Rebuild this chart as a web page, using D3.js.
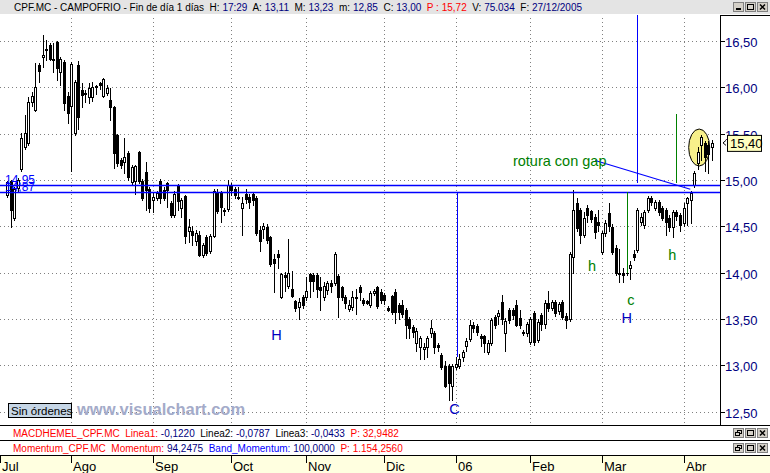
<!DOCTYPE html>
<html><head><meta charset="utf-8">
<script src="https://cdn.jsdelivr.net/npm/d3@7"></script>
<style>
body{margin:0;background:#fff;}
svg{display:block;font-family:"Liberation Sans",Arial,sans-serif;}
text{white-space:pre;}
</style>
</head><body>
<svg id="c" width="770" height="473"></svg>
<script>
// ---------- data ----------
const opens = [14.84,14.99,14.59,14.91,15.12,15.36,15.40,15.84,15.76,16.24,16.33,16.40,16.46,16.31,16.49,16.16,16.27,15.91,15.80,15.51,
16.24,15.97,15.94,15.90,15.90,16.00,16.05,15.91,15.94,15.86,15.79,15.49,15.21,15.19,15.29,14.98,14.99,15.30,14.99,15.09,
14.90,14.78,14.81,14.99,14.89,14.97,14.75,14.62,14.95,14.70,14.83,14.45,14.45,14.34,14.41,14.19,14.38,14.23,14.40,14.86,
14.86,14.66,14.69,14.95,14.90,14.82,14.70,14.85,14.82,14.85,14.81,14.46,14.47,14.49,14.38,14.15,14.20,13.74,13.97,13.85,
13.82,13.69,13.63,13.74,13.74,13.98,13.97,13.97,13.84,13.74,13.81,13.89,13.89,13.96,13.84,13.74,13.61,13.63,13.74,13.84,
13.70,13.69,13.65,13.78,13.84,13.79,13.76,13.62,13.75,13.79,13.65,13.65,13.60,13.50,13.41,13.24,13.20,13.17,13.20,13.35,
13.35,13.22,13.11,12.99,12.99,12.78,12.98,12.99,13.09,13.21,13.28,13.43,13.42,13.31,13.31,13.14,13.24,13.52,13.53,13.68,
13.35,13.60,13.60,13.65,13.51,13.35,13.35,13.25,13.56,13.27,13.54,13.44,13.67,13.62,13.68,13.58,13.68,13.53,13.50,14.17,
14.75,14.68,14.41,14.70,14.66,14.60,14.55,14.22,14.43,14.64,14.49,14.27,14.00,14.00,14.00,14.05,14.20,14.24,14.55,14.51,
14.68,14.81,14.70,14.76,14.70,14.68,14.59,14.49,14.65,14.62,14.53,14.75,14.78,14.94,15.18,15.38,15.40,15.38,15.36];
const highs = [14.99,15.00,14.92,15.02,15.51,15.70,15.90,15.95,16.26,16.26,16.56,16.51,16.48,16.48,16.50,16.33,16.30,15.95,16.27,16.08,
16.28,16.05,15.97,16.05,16.06,16.02,16.06,16.10,16.02,15.99,15.80,15.50,15.24,15.45,15.31,15.16,15.16,15.31,15.01,15.19,
14.92,14.86,14.88,15.01,14.92,14.98,14.77,14.88,14.96,14.80,14.84,14.58,14.50,14.46,14.45,14.32,14.41,14.42,14.90,14.90,
14.88,14.70,15.00,14.97,14.92,14.92,14.82,14.90,14.85,14.87,14.83,14.50,14.53,14.52,14.40,14.20,14.24,14.00,14.01,14.36,
14.02,13.70,13.72,13.76,13.95,14.00,13.99,13.99,13.95,13.90,13.91,13.92,14.22,13.98,13.86,13.76,13.70,13.80,13.82,13.87,
13.72,13.70,13.80,13.82,13.86,13.82,13.78,13.64,13.76,13.82,13.67,13.70,13.62,13.52,13.43,13.40,13.31,13.24,13.31,13.49,
13.37,13.24,13.13,13.05,13.01,13.01,13.09,13.12,13.16,13.29,13.49,13.47,13.44,13.34,13.33,13.27,13.51,13.54,13.60,13.76,
13.51,13.62,13.62,13.70,13.60,13.38,13.47,13.52,13.58,13.50,13.56,13.70,13.80,13.70,13.70,13.68,13.70,13.56,14.22,14.89,
14.80,14.70,14.65,14.73,14.68,14.63,14.68,14.45,14.57,14.75,14.52,14.30,14.25,14.05,14.02,14.12,14.24,14.70,14.64,14.68,
14.83,14.83,14.78,14.78,14.72,14.70,14.62,14.68,14.68,14.64,14.75,14.82,14.88,15.10,15.36,15.49,15.42,15.42,15.43];
const lows = [14.82,14.49,14.57,14.88,15.10,15.33,15.38,15.80,15.74,16.06,16.22,16.30,16.30,16.17,16.08,16.03,15.75,15.62,15.10,15.49,
15.55,15.79,15.84,15.83,15.85,15.93,15.98,15.90,15.92,15.65,15.13,15.15,15.13,15.08,15.00,14.96,14.85,14.97,14.78,14.68,
14.65,14.65,14.78,14.75,14.78,14.71,14.60,14.60,14.68,14.60,14.32,14.33,14.30,14.30,14.18,14.17,14.19,14.21,14.38,14.64,
14.55,14.62,14.67,14.84,14.80,14.79,14.41,14.75,14.70,14.73,14.41,14.23,14.37,14.32,14.07,13.79,14.05,13.72,13.80,13.83,
13.74,13.58,13.50,13.62,13.70,13.74,13.80,13.74,13.60,13.70,13.77,13.79,13.87,13.52,13.70,13.62,13.58,13.60,13.55,13.70,
13.65,13.66,13.63,13.76,13.62,13.67,13.66,13.58,13.55,13.46,13.50,13.52,13.29,13.29,13.30,13.15,13.07,13.07,13.09,13.30,
13.13,13.15,12.96,12.76,12.62,12.62,12.96,12.97,13.04,13.15,13.26,13.36,13.33,13.21,13.14,13.12,13.22,13.40,13.44,13.45,
13.15,13.46,13.50,13.42,13.40,13.33,13.32,13.23,13.22,13.25,13.38,13.40,13.58,13.60,13.53,13.55,13.50,13.40,13.48,14.00,
14.45,14.32,14.38,14.55,14.55,14.37,14.45,14.20,14.40,14.45,14.20,13.97,13.90,13.90,13.97,13.93,14.14,14.22,14.51,14.48,
14.65,14.73,14.68,14.62,14.57,14.41,14.45,14.38,14.57,14.45,14.50,14.51,14.53,14.92,15.12,15.22,15.10,15.08,15.21];
const closes = [14.98,14.68,14.90,15.00,15.45,15.51,15.84,15.91,16.00,16.18,16.35,16.41,16.31,16.30,16.21,16.31,15.83,15.72,16.25,16.06,
15.68,15.92,15.93,15.99,16.00,16.01,16.03,16.09,15.99,15.79,15.29,15.18,15.16,15.25,15.03,15.14,15.15,14.99,14.81,14.89,
14.70,14.82,14.86,14.81,14.81,14.89,14.62,14.85,14.77,14.78,14.40,14.49,14.41,14.43,14.19,14.30,14.21,14.40,14.88,14.66,
14.71,14.68,14.95,14.89,14.84,14.80,14.75,14.79,14.76,14.78,14.43,14.34,14.50,14.35,14.09,14.10,14.17,13.98,13.95,14.00,
13.75,13.62,13.68,13.65,13.80,13.91,13.91,13.82,13.81,13.85,13.89,13.86,14.20,13.74,13.74,13.67,13.65,13.74,13.72,13.79,
13.67,13.67,13.78,13.80,13.64,13.70,13.70,13.60,13.57,13.57,13.57,13.55,13.43,13.40,13.36,13.37,13.29,13.20,13.29,13.40,
13.20,13.20,12.98,12.78,12.81,12.99,13.01,13.07,13.14,13.26,13.43,13.40,13.36,13.29,13.24,13.24,13.49,13.43,13.56,13.50,
13.48,13.49,13.54,13.43,13.43,13.36,13.45,13.50,13.25,13.47,13.44,13.67,13.62,13.68,13.56,13.66,13.52,13.49,14.20,14.68,
14.48,14.41,14.59,14.62,14.58,14.44,14.51,14.43,14.54,14.50,14.22,14.00,13.98,13.97,13.99,14.08,14.17,14.68,14.60,14.65,
14.81,14.76,14.76,14.65,14.59,14.55,14.49,14.65,14.61,14.51,14.70,14.80,14.86,15.08,15.30,15.46,15.25,15.28,15.40];
const monthLabels = ["Jul","Ago","Sep","Oct","Nov","Dic","06","Feb","Mar","Abr"];
const monthStarts = [-2,18,41,63,84,106,126,147,167,190];
const priceTicks = [12.5,13,13.5,14,14.5,15,15.5,16,16.5];
const lastPrice = 15.40;
const levelPrices = [14.95, 14.87];
const levelLabels = ["14,95", "14,87"];

// annotations (index, price)
const blueVLines = [{i:126.4, p1:14.87, p2:13.09}, {i:177, p1:17.9, p2:14.97}];
const greenVLines = [{i:188, p1:15.71, p2:14.97}, {i:174.2, p1:14.87, p2:14.00}];
const trendLine = [{i:165.2, p:15.21}, {i:191.9, p:14.90}];
const notes = [
  {t:"rotura con gap", i:142.1, p:15.15, c:"#008000", s:14.5},
  {t:"H", i:74.2, p:13.27, c:"#0000c0", s:14.5},
  {t:"C", i:124.2, p:12.47, c:"#0000c0", s:14.5},
  {t:"h", i:163.2, p:14.02, c:"#008000", s:14.5},
  {t:"c", i:174.2, p:13.65, c:"#008000", s:14.5},
  {t:"H", i:172.6, p:13.46, c:"#0000c0", s:14.5},
  {t:"h", i:185.7, p:14.14, c:"#008000", s:14.5}
];
const highlight = {i:194.4, p:15.35};

// ---------- drawing ----------
const svg = d3.select("#c");
const n = opens.length;
const x = d3.scaleLinear().domain([0, n-1]).range([7, 712]);
const y = d3.scaleLinear().domain([12.5, 16.5]).range([411.5, 41]);
const fmt = v => d3.format(".2f")(v).replace(".", ",");
const plotTop = 14, plotBottom = 425, axisX = 720;

// header bar
svg.append("rect").attr("x",0).attr("y",0).attr("width",770).attr("height",14).attr("fill","#e4e4e4");
const hdr = svg.append("text").attr("x",14).attr("y",11).attr("font-size",10).attr("fill","#000");
[["CPF.MC - CAMPOFRIO - Fin de día 1 días  H: ","#000"],["17:29","#000080"],["  A: ","#000"],["13,11","#000080"],
 ["  M: ","#000"],["13,23","#000080"],["  m: ","#000"],["12,85","#000080"],["  C: ","#000"],["13,00","#000080"],
 ["  P : 15,72","#ff0000"],["  V: ","#000"],["75.034","#000080"],["  F: ","#000"],["27/12/2005","#000080"]]
 .forEach(([t,c]) => hdr.append("tspan").attr("fill",c).text(t));

function buttons(yTop, kinds){
  kinds.forEach((k, j) => {
    const bx = 733 + j*12;
    const g = svg.append("g");
    g.append("rect").attr("x",bx+0.5).attr("y",yTop+0.5).attr("width",10).attr("height",9)
      .attr("fill","#d4d0c8").attr("stroke","#808080");
    if (k === "min") g.append("rect").attr("x",bx+3).attr("y",yTop+6).attr("width",5).attr("height",2).attr("fill","#000");
    if (k === "max") g.append("rect").attr("x",bx+2.5).attr("y",yTop+2.5).attr("width",6).attr("height",5).attr("fill","none").attr("stroke","#000");
    if (k === "close") g.append("path").attr("d",`M${bx+3},${yTop+2.5}L${bx+8},${yTop+7.5}M${bx+8},${yTop+2.5}L${bx+3},${yTop+7.5}`).attr("stroke","#000").attr("stroke-width",1.5);
    if (k === "restore") {
      g.append("rect").attr("x",bx+4.5).attr("y",yTop+2.5).attr("width",4).attr("height",3).attr("fill","none").attr("stroke","#000");
      g.append("rect").attr("x",bx+2.5).attr("y",yTop+4.5).attr("width",4).attr("height",3).attr("fill","#d4d0c8").attr("stroke","#000");
    }
  });
}
buttons(2, ["min","max","close"]);

// grid
const grid = svg.append("g").attr("stroke","#808080").attr("stroke-dasharray","1,3");
grid.selectAll("line.h").data(priceTicks).join("line")
  .attr("x1",0).attr("x2",axisX).attr("y1",d=>Math.round(y(d))+0.5).attr("y2",d=>Math.round(y(d))+0.5);
grid.selectAll("line.v").data(monthStarts.slice(1)).join("line")
  .attr("x1",d=>Math.round(x(d))+0.5).attr("x2",d=>Math.round(x(d))+0.5).attr("y1",plotTop+4).attr("y2",plotBottom);

// highlight ellipse (under candles)
svg.append("ellipse").attr("cx",x(highlight.i)).attr("cy",y(highlight.p)).attr("rx",10.5).attr("ry",18.5)
  .attr("fill","#f7f08a").attr("stroke","#000").attr("stroke-width",1);

// candles
const data = opens.map((o,i)=>({i,o,h:highs[i],l:lows[i],c:closes[i]}));
const cg = svg.append("g").attr("shape-rendering","crispEdges");
data.forEach(d => {
  const px = Math.round(x(d.i));
  const yh = Math.round(y(d.h)), yl = Math.round(y(d.l));
  const top = Math.round(y(Math.max(d.o,d.c))), bot = Math.round(y(Math.min(d.o,d.c)));
  cg.append("line").attr("x1",px+0.5).attr("x2",px+0.5).attr("y1",yh).attr("y2",yl+1).attr("stroke","#000");
  if (d.c >= d.o && bot - top >= 2) {
    cg.append("rect").attr("x",px-0.5).attr("y",top+0.5).attr("width",2).attr("height",bot-top)
      .attr("fill","#fff").attr("stroke","#000");
  } else {
    cg.append("rect").attr("x",px-1).attr("y",top).attr("width",3).attr("height",Math.max(1,bot-top+1)).attr("fill","#000");
  }
});

// level lines
svg.selectAll("line.lvl").data(levelPrices).join("line")
  .attr("x1",0).attr("x2",axisX).attr("y1",d=>Math.round(y(d))+0.5).attr("y2",d=>Math.round(y(d))+0.5)
  .attr("stroke","#0000ff").attr("stroke-width",1.3);
svg.selectAll("text.lvl").data(levelLabels).join("text")
  .attr("x",5).attr("y",(d,k)=>Math.round(y(levelPrices[k]))-1).attr("font-size",12).attr("fill","#0000ff").text(d=>d);

// annotation lines
const al = svg.append("g").attr("shape-rendering","crispEdges");
blueVLines.forEach(l => al.append("line").attr("x1",Math.round(x(l.i))+0.5).attr("x2",Math.round(x(l.i))+0.5)
  .attr("y1",Math.max(15,y(l.p1))).attr("y2",y(l.p2)).attr("stroke","#0000ff"));
greenVLines.forEach(l => al.append("line").attr("x1",Math.round(x(l.i))+0.5).attr("x2",Math.round(x(l.i))+0.5)
  .attr("y1",y(l.p1)).attr("y2",y(l.p2)).attr("stroke","#008000"));
svg.append("line").attr("x1",x(trendLine[0].i)).attr("y1",y(trendLine[0].p))
  .attr("x2",x(trendLine[1].i)).attr("y2",y(trendLine[1].p)).attr("stroke","#0000ff").attr("stroke-width",1.2);
notes.forEach(a => svg.append("text").attr("x",x(a.i)).attr("y",y(a.p)).attr("font-size",a.s).attr("fill",a.c).text(a.t));

// right axis
svg.append("line").attr("x1",axisX+0.5).attr("x2",axisX+0.5).attr("y1",15).attr("y2",plotBottom).attr("stroke","#000");
svg.append("line").attr("x1",axisX).attr("x2",770).attr("y1",15.5).attr("y2",15.5).attr("stroke","#000");
const ax = svg.append("g");
priceTicks.forEach(t => {
  const yy = Math.round(y(t))+0.5;
  ax.append("line").attr("x1",axisX).attr("x2",axisX+5).attr("y1",yy).attr("y2",yy).attr("stroke","#000");
  ax.append("text").attr("x",axisX+5).attr("y",yy+5).attr("font-size",13).attr("fill","#000080").text(fmt(t));
});
// last price marker
const ly = y(lastPrice);
svg.append("path").attr("d",`M726,${ly-2.5}L723,${ly}L726,${ly+2.5}`).attr("fill","none").attr("stroke","#000");
svg.append("rect").attr("x",727.5).attr("y",ly-7.5).attr("width",34).attr("height",16).attr("fill","#ffffc0").attr("stroke","#000");
svg.append("text").attr("x",730).attr("y",ly+5).attr("font-size",13).attr("fill","#000").text(fmt(lastPrice));

// watermark + orders box
svg.append("rect").attr("x",8.5).attr("y",403.5).attr("width",63).attr("height",14).attr("fill","#c6d6e6").attr("stroke","#000");
svg.append("text").attr("x",11).attr("y",415).attr("font-size",11.5).attr("fill","#000").text("Sin órdenes");
svg.append("text").attr("x",77).attr("y",415).attr("font-size",16.5).attr("font-weight","bold").attr("fill","#a4abc9").text("www.visualchart.com");

// indicator rows
svg.append("line").attr("x1",0).attr("x2",770).attr("y1",425.5).attr("y2",425.5).attr("stroke","#000");
svg.append("line").attr("x1",0).attr("x2",770).attr("y1",440.5).attr("y2",440.5).attr("stroke","#000");
svg.append("line").attr("x1",0).attr("x2",770).attr("y1",455.5).attr("y2",455.5).attr("stroke","#000");
function row(yb, parts){
  const t = svg.append("text").attr("x",13).attr("y",yb).attr("font-size",10);
  parts.forEach(([s,c]) => t.append("tspan").attr("fill",c).text(s));
}
row(437, [["MACDHEMEL_CPF.MC  Linea1: ","#ff0000"],["-0,1220","#000080"],["  Linea2: ","#000"],["-0,0787","#000080"],
  ["  Linea3: ","#000"],["-0,0433","#000080"],["  P: 32,9482","#ff0000"]]);
row(452, [["Momentum_CPF.MC  Momentum: ","#ff0000"],["94,2475","#000080"],["  Band_Momentum: ","#0000ff"],["100,0000","#000080"],
  ["  P: 1.154,2560","#ff0000"]]);
buttons(428, ["restore","max","close"]);
buttons(443, ["restore","max","close"]);

// time axis
svg.append("rect").attr("x",0).attr("y",456).attr("width",770).attr("height",17).attr("fill","#ffffe0");
monthStarts.forEach((m,k) => {
  const xx = Math.round(x(m))+0.5;
  svg.append("line").attr("x1",xx).attr("x2",xx).attr("y1",456).attr("y2",463).attr("stroke","#000");
  svg.append("text").attr("x",xx+1.5).attr("y",471).attr("font-size",13).attr("fill","#000").text(monthLabels[k]);
});
</script>
</body></html>
